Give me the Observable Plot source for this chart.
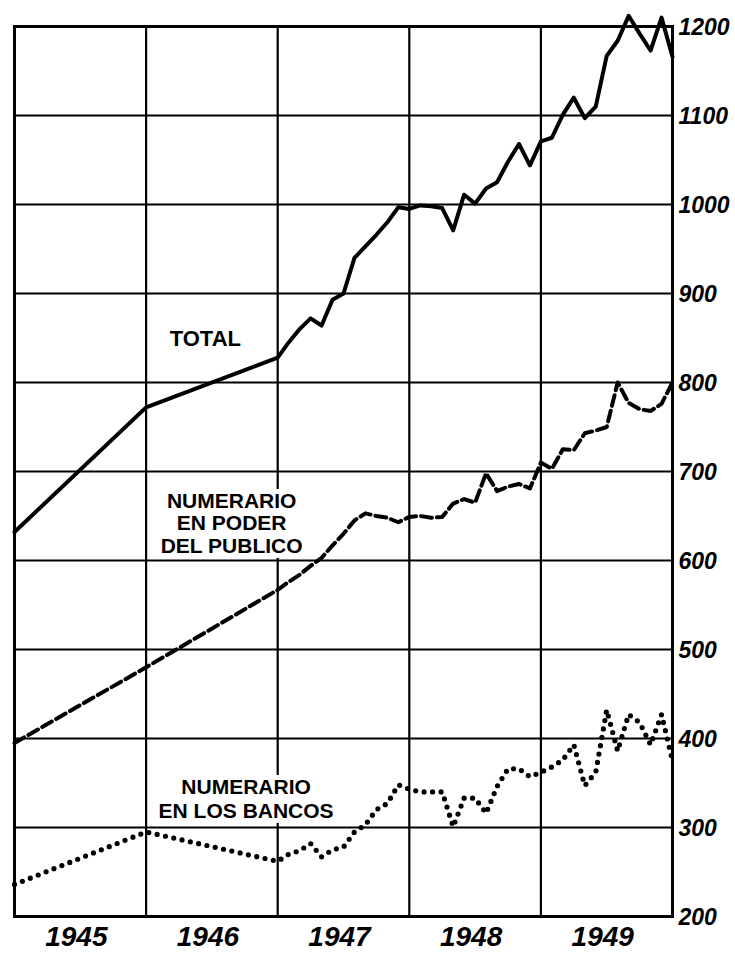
<!DOCTYPE html>
<html>
<head>
<meta charset="utf-8">
<script src="https://cdn.jsdelivr.net/npm/d3@7"></script>
<script src="https://cdn.jsdelivr.net/npm/@observablehq/plot@0.6"></script>
<style>
  html, body { margin: 0; padding: 0; background: #fff; }
  svg { display: block; }
</style>
</head>
<body>
<div id="chart"></div>
<script>
// Periods: annual points (Dec) for 1944-1946, then monthly 1947-1949
const periods = [
  "1944-12", "1945-12", "1946-12",
  "1947-01","1947-02","1947-03","1947-04","1947-05","1947-06","1947-07","1947-08","1947-09","1947-10","1947-11","1947-12",
  "1948-01","1948-02","1948-03","1948-04","1948-05","1948-06","1948-07","1948-08","1948-09","1948-10","1948-11","1948-12",
  "1949-01","1949-02","1949-03","1949-04","1949-05","1949-06","1949-07","1949-08","1949-09","1949-10","1949-11","1949-12"
];

// TOTAL
const total = [
  632, 772, 828,
  845, 860, 872, 864, 893, 900, 940, 953, 966, 980, 997, 995,
  999, 998, 996, 971, 1011, 1001, 1018, 1025, 1048, 1068, 1044, 1071,
  1075, 1101, 1120, 1097, 1110, 1167, 1184, 1212, 1192, 1173, 1210, 1166
];

// NUMERARIO EN PODER DEL PUBLICO
const publico = [
  395, 480, 567,
  576, 584, 594, 603, 617, 630, 645, 653, 650, 648, 643, 649,
  650, 648, 649, 664, 669, 665, 698, 678, 683, 686, 681, 710,
  703, 725, 724, 743, 746, 750, 800, 777, 770, 768, 776, 800
];

// NUMERARIO EN LOS BANCOS
const bancos = [
  236, 295, 262,
  270, 274, 282, 267, 275, 278, 295, 303, 320, 327, 348, 343,
  340, 340, 340, 301, 333, 333, 316, 346, 366, 366, 357, 362,
  368, 376, 393, 347, 362, 432, 386, 427, 418, 393, 427, 375
];

const yearLabels = ["1945", "1946", "1947", "1948", "1949"];
const yearEdges = [1945, 1946, 1947, 1948, 1949, 1950];
const yTicks = [200, 300, 400, 500, 600, 700, 800, 900, 1000, 1100, 1200];
const seriesNames = ["TOTAL", "NUMERARIO\nEN PODER\nDEL PUBLICO", "NUMERARIO\nEN LOS BANCOS"];

// build tables
const toYear = p => { const [y, m] = p.split("-").map(Number); return y + m / 12; };
const rows = (vals) => periods.map((p, i) => ({t: toYear(p), v: vals[i]}));
const totalRows = rows(total);
const publicoRows = rows(publico);
const bancosRows = rows(bancos);
const yearRows = yearLabels.map(s => ({t: +s + 0.5, label: s}));
const tickRows = yTicks.map(v => ({v, label: String(v)}));
const nameRows = [
  {t: 1946.45, v: 849, label: seriesNames[0]},
  {t: 1946.65, v: 642, label: seriesNames[1]},
  {t: 1946.76, v: 333, label: seriesNames[2]}
];

const plot = Plot.plot({
  width: 735,
  height: 953,
  marginLeft: 14,
  marginRight: 63,
  marginTop: 26,
  marginBottom: 37,
  x: {domain: [1945, 1950], axis: null},
  y: {domain: [200, 1200], axis: null},
  style: {background: "#fff", overflow: "visible"},
  marks: [
    Plot.ruleY(yTicks, {stroke: "#000", strokeWidth: 2.2}),
    Plot.ruleX(yearEdges, {stroke: "#000", strokeWidth: 2.2}),
    Plot.frame({stroke: "#000", strokeWidth: 3}),
    // series labels with white knockout
    Plot.text(nameRows.slice(0, 1), {
      x: "t", y: "v", text: "label", ariaLabel: "name-total",
      fontFamily: "Liberation Sans", fontWeight: "bold", fontSize: 22,
      fill: "#000", stroke: "#fff", strokeWidth: 10, paintOrder: "stroke"
    }),
    Plot.text(nameRows.slice(1, 2), {
      x: "t", y: "v", text: "label", ariaLabel: "name-publico",
      fontFamily: "Liberation Sans", fontWeight: "bold", fontSize: 21, lineHeight: 1.08,
      fill: "#000", stroke: "#fff", strokeWidth: 10, paintOrder: "stroke"
    }),
    Plot.text(nameRows.slice(2, 3), {
      x: "t", y: "v", text: "label", ariaLabel: "name-bancos",
      fontFamily: "Liberation Sans", fontWeight: "bold", fontSize: 21, lineHeight: 1.14,
      fill: "#000", stroke: "#fff", strokeWidth: 10, paintOrder: "stroke"
    }),
    // series lines
    Plot.line(totalRows, {x: "t", y: "v", stroke: "#000", strokeWidth: 4, strokeLinejoin: "round"}),
    Plot.line(publicoRows, {x: "t", y: "v", stroke: "#000", strokeWidth: 4, strokeDasharray: "11,5", strokeLinejoin: "round"}),
    Plot.line(bancosRows, {x: "t", y: "v", stroke: "#000", strokeWidth: 5.2, strokeDasharray: "0,8.5", strokeLinecap: "round"}),
    // right axis labels
    Plot.text(tickRows, {
      x: () => 1950, y: "v", text: "label", ariaLabel: "y-labels",
      textAnchor: "start", dx: 6, dy: 1,
      fontFamily: "Liberation Sans", fontStyle: "italic", fontWeight: "bold", fontSize: 23, fill: "#000"
    }),
    // year labels
    Plot.text(yearRows, {
      x: "t", y: () => 200, text: "label", ariaLabel: "year-labels",
      dy: 21, dx: -4,
      fontFamily: "Liberation Sans", fontStyle: "italic", fontWeight: "bold", fontSize: 28, fill: "#000"
    })
  ]
});

// condense some lettering horizontally (hand lettering is narrow)
function squeeze(label, sx) {
  plot.querySelectorAll(`g[aria-label="${label}"] text`).forEach(t => {
    const tr = t.getAttribute("transform") || "";
    t.setAttribute("transform", tr + ` scale(${sx},1)`);
  });
}
squeeze("year-labels", 0.8);
squeeze("y-labels", 0.9);
squeeze("name-total", 0.8);

document.getElementById("chart").appendChild(plot);
</script>
</body>
</html>
